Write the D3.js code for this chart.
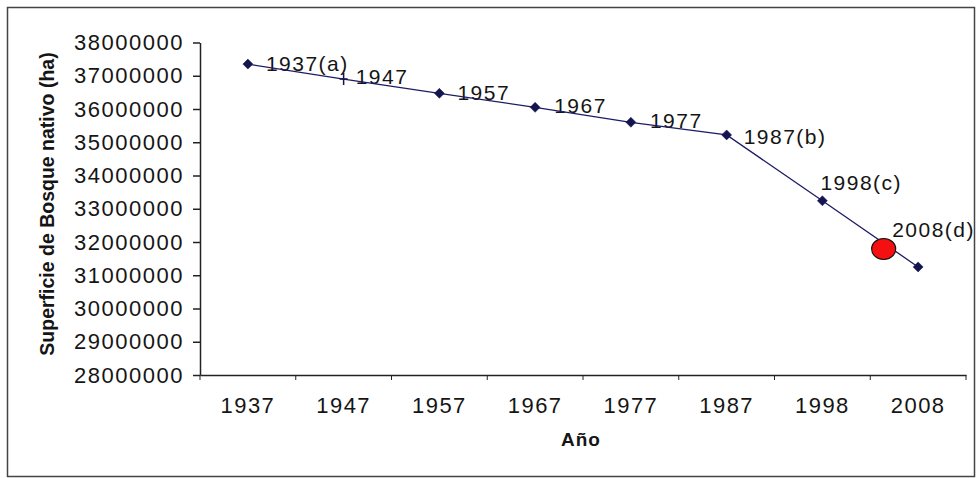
<!DOCTYPE html>
<html>
<head>
<meta charset="utf-8">
<script src="https://cdn.jsdelivr.net/npm/d3@7"></script>
<style>
  body { margin: 0; background: #fff; }
  text { font-family: "Liberation Sans", Arial, sans-serif; fill: #151515; }
</style>
</head>
<body>
<div id="chart"></div>
<script>
// data
const years = ["1937", "1947", "1957", "1967", "1977", "1987", "1998", "2008"];
const surface = [37350000, 36900000, 36470000, 36050000, 35600000, 35220000, 33240000, 31250000];
const pointLabels = ["1937(a)", "1947", "1957", "1967", "1977", "1987(b)", "1998(c)", "2008(d)"];
const yTickValues = [28000000, 29000000, 30000000, 31000000, 32000000, 33000000,
  34000000, 35000000, 36000000, 37000000, 38000000];
// red marker sits between 1998 and 2008
const highlight = { from: "1998", to: "2008", t: 0.64, value: 31790000 };

// label placement (relative to the point)
const labelDx = [18, 12, 18, 19, 19, 17, -2, -26];
const labelDy = [7, 5, 7, 6, 6, 9, -11, -30];

const width = 980;
const height = 478;
const plot = { left: 200, right: 966, top: 42.5, bottom: 375 };

const svg = d3.select("#chart").append("svg")
  .attr("width", width)
  .attr("height", height);

// outer frame
svg.append("rect")
  .attr("x", 7.5).attr("y", 7.5)
  .attr("width", 967).attr("height", 469)
  .attr("fill", "none")
  .attr("stroke", "#444")
  .attr("stroke-width", 1.5);

const x = d3.scaleBand()
  .domain(years)
  .range([plot.left, plot.right]);

const y = d3.scaleLinear()
  .domain([28000000, 38000000])
  .range([plot.bottom, plot.top]);

const cx = d => x(d) + x.bandwidth() / 2;

// y axis
const yAxis = svg.append("g")
  .attr("transform", `translate(${plot.left},0)`)
  .call(d3.axisLeft(y).tickValues(yTickValues).tickFormat(d3.format("d"))
    .tickSize(7).tickSizeOuter(0).tickPadding(9));
yAxis.selectAll("text")
  .attr("font-size", 22)
  .attr("letter-spacing", 1.5);

// x axis: labels centred, ticks on band edges
const xAxis = svg.append("g")
  .attr("transform", `translate(0,${plot.bottom})`)
  .call(d3.axisBottom(x).tickSize(0).tickSizeOuter(0).tickPadding(22));
xAxis.selectAll("text")
  .attr("font-size", 22)
  .attr("letter-spacing", 1.5);
xAxis.selectAll(".edge")
  .data(d3.range(years.length + 1))
  .join("line")
  .attr("class", "edge")
  .attr("x1", i => plot.left + i * x.step())
  .attr("x2", i => plot.left + i * x.step())
  .attr("y1", 0).attr("y2", 5)
  .attr("stroke", "#222");

svg.selectAll(".domain, .tick line")
  .attr("stroke", "#222")
  .attr("stroke-width", 1.5);
svg.selectAll(".tick text").attr("fill", "#151515");

// axis titles
svg.append("text")
  .attr("x", 581)
  .attr("y", 446)
  .attr("text-anchor", "middle")
  .attr("font-size", 19)
  .attr("font-weight", "bold")
  .attr("letter-spacing", 1)
  .text("Año");

svg.append("text")
  .attr("transform", "translate(54,204) rotate(-90)")
  .attr("text-anchor", "middle")
  .attr("font-size", 19.5)
  .attr("font-weight", "bold")
  .text("Superficie de Bosque nativo (ha)");

// point labels
svg.append("g")
  .selectAll("text")
  .data(years)
  .join("text")
  .attr("x", (d, i) => cx(d) + labelDx[i])
  .attr("y", (d, i) => y(surface[i]) + labelDy[i])
  .attr("font-size", 21)
  .attr("letter-spacing", 1.5)
  .text((d, i) => pointLabels[i]);

// series line
const line = d3.line()
  .x((d, i) => cx(years[i]))
  .y(d => y(d));

svg.append("path")
  .datum(surface)
  .attr("d", line)
  .attr("fill", "none")
  .attr("stroke", "#1c1c66")
  .attr("stroke-width", 1.3);

// markers: diamonds, except 1947 drawn as a plus
const diamond = "M0,-5L5,0L0,5L-5,0Z";
svg.append("g")
  .selectAll("path")
  .data(years)
  .join("path")
  .attr("transform", (d, i) => `translate(${cx(d)},${y(surface[i])})`)
  .attr("d", d => d === "1947" ? "M0,-6V6M-4,0H4" : diamond)
  .attr("fill", d => d === "1947" ? "none" : "#141450")
  .attr("stroke", "#141450")
  .attr("stroke-width", d => d === "1947" ? 1.5 : 0.5);

// red highlight marker
const hx = cx(highlight.from) + (cx(highlight.to) - cx(highlight.from)) * highlight.t;
svg.append("ellipse")
  .attr("cx", hx)
  .attr("cy", y(highlight.value))
  .attr("rx", 12)
  .attr("ry", 10.5)
  .attr("fill", "#f41010")
  .attr("stroke", "#111")
  .attr("stroke-width", 1.2);
</script>
</body>
</html>
